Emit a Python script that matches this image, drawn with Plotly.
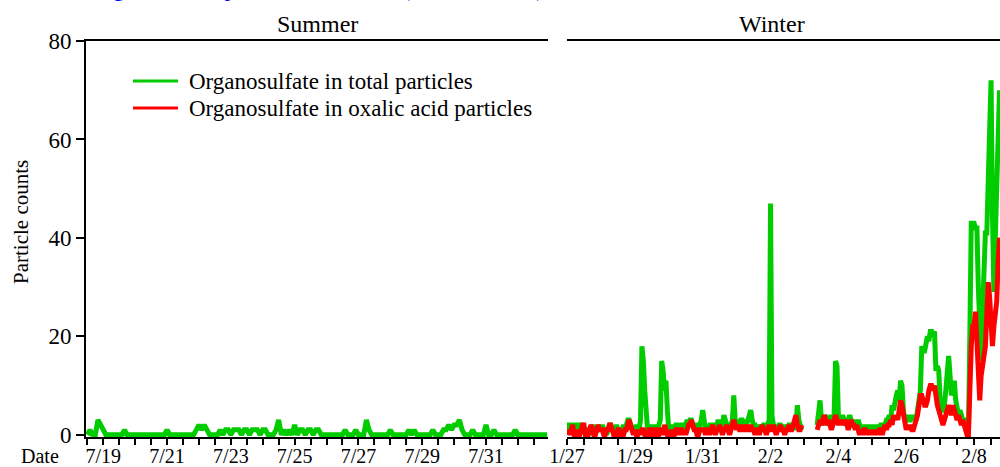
import pandas as pd
import plotly.graph_objects as go

# ---------------- data ----------------
# Summer: 2-hourly counts, starting 2013-07-18 12:00 (only total particles visible)
summer_start = "2013-07-18 12:00"
summer_total = [
    0, 1, 0, 0, 3, 2, 1, 0, 0, 0, 0, 0,
    0, 0, 1, 0, 0, 0, 0, 0, 0, 0, 0, 0,
    0, 0, 0, 0, 0, 0, 1, 0, 0, 0, 0, 0,
    0, 0, 0, 0, 0, 1, 2, 1, 2, 1, 0, 0,
    0, 0, 1, 0, 1, 1, 0, 1, 1, 1, 0, 1,
    1, 0, 1, 1, 1, 0, 1, 1, 0, 0, 0, 1,
    3, 0, 1, 0, 1, 0, 2, 0, 1, 1, 0, 1,
    1, 0, 1, 1, 0, 0, 0, 0, 0, 0, 0, 0,
    0, 1, 0, 0, 0, 1, 0, 0, 0, 3, 1, 0,
    0, 0, 0, 0, 0, 0, 1, 0, 0, 0, 0, 0,
    0, 1, 0, 1, 0, 0, 0, 0, 0, 0, 1, 0,
    0, 0, 1, 1, 2, 1, 2, 2, 3, 1, 0, 0,
    0, 1, 0, 0, 0, 0, 2, 0, 0, 1, 0, 0,
    0, 0, 0, 0, 0, 1, 0, 0, 0, 0, 0, 0,
    0, 0, 0, 0, 0, 0,
]

# Winter: hourly counts, starting 2014-01-27 00:00 (None = no data)
N = None
winter_start = "2014-01-27 00:00"
winter_total = [
    2, 2, 1, 2, 2, 1, 2, 2, 2, 1, 2, 2, 1, 0, 1, 1, 0, 1, 2, 1, 0, 1, 2, 1,
    1, 2, 1, 1, 0, 1, 2, 2, 1, 1, 1, 2, 1, 0, 1, 1, 2, 1, 2, 3, 3, 2, 1, 1,
    1, 2, 1, 1, 3, 18, 15, 9, 2, 1, 1, 2, 1, 1, 2, 1, 1, 2, 3, 15, 13, 9, 11, 5,
    1, 1, 1, 2, 1, 2, 2, 1, 1, 2, 2, 1, 2, 3, 2, 3, 3, 2, 1, 2, 2, 1, 2, 3,
    5, 2, 1, 2, 1, 2, 2, 2, 1, 2, 2, 3, 2, 1, 2, 4, 3, 2, 1, 2, 2, 3, 8, 3,
    2, 3, 2, 3, 3, 2, 3, 2, 3, 4, 5, 3, 2, 2, 1, 2, 1, 2, 1, 2, 2, 1, 2, 3,
    47, 4, 2, 1, 2, 1, 2, 2, 1, 2, 1, 2, 1, 2, 2, 1, 2, 1, 2, 6, 3, 2, 1, N,
    N, N, N, N, N, N, N, N, N, 2, 4, 7, 3, 2, 3, 4, 3, 2, 3, 4, 3, 4, 15, 14,
    4, 3, 3, 4, 3, 2, 3, 3, 4, 3, 2, 3, 2, 2, 3, 2, 1, 2, 1, 1, 2, 1, 1, 2,
    1, 2, 1, 2, 1, 1, 2, 2, 1, 2, 3, 3, 4, 3, 6, 5, 7, 8, 9, 7, 11, 10, 5, 3,
    3, 4, 3, 3, 4, 3, 4, 3, 5, 8, 9, 18, 17, 17, 19, 20, 19, 21, 21, 20, 21, 13, 14, 13,
    7, 5, 5, 6, 9, 13, 16, 12, 8, 9, 11, 7, 5, 4, 5, 4, 3, 3, 2, 1, 0, 20, 43, 43,
    43, 42, 42, 30, 18, 15, 25, 36, 41, 41, 55, 70, 72, 45, 29, 40, 50, 66, 70, 62, 55, 50, 48, 45,
]
winter_oxalic = [
    0, 1, 0, 1, 2, 0, 0, 1, 0, 0, 1, 2, 2, 0, 0, 0, 1, 2, 1, 0, 0, 1, 2, 1,
    1, 1, 0, 0, 1, 1, 2, 2, 1, 0, 0, 0, 1, 1, 0, 0, 0, 1, 1, 2, 3, 2, 1, 0,
    1, 0, 0, 1, 0, 1, 1, 0, 0, 0, 1, 1, 0, 0, 1, 1, 0, 0, 1, 1, 0, 2, 1, 0,
    0, 0, 1, 0, 0, 1, 1, 0, 1, 1, 0, 1, 0, 1, 2, 2, 3, 2, 1, 1, 0, 0, 1, 1,
    1, 1, 0, 1, 1, 0, 1, 2, 1, 0, 1, 1, 2, 1, 0, 1, 1, 2, 1, 0, 1, 2, 3, 2,
    1, 2, 1, 1, 2, 1, 1, 2, 1, 1, 2, 1, 1, 0, 1, 1, 0, 1, 2, 1, 1, 0, 1, 2,
    1, 1, 2, 1, 0, 1, 1, 2, 1, 1, 0, 1, 1, 2, 1, 1, 2, 3, 4, 2, 1, 1, 2, N,
    N, N, N, N, N, N, N, N, N, 1, 2, 3, 2, 3, 4, 3, 2, 3, 2, 1, 2, 3, 4, 3,
    2, 3, 2, 3, 2, 3, 2, 1, 2, 3, 2, 2, 1, 2, 1, 0, 1, 0, 1, 1, 0, 1, 0, 1,
    0, 1, 0, 1, 0, 1, 1, 0, 1, 2, 1, 2, 2, 3, 2, 4, 3, 4, 3, 5, 7, 6, 4, 2,
    1, 2, 1, 2, 1, 1, 2, 3, 4, 6, 8, 8, 7, 6, 6, 7, 9, 10, 10, 9, 10, 7, 6, 5,
    4, 3, 2, 3, 4, 5, 6, 5, 4, 6, 5, 4, 3, 4, 3, 2, 3, 2, 1, 0, 0, 12, 18, 22,
    22, 25, 20, 12, 7, 12, 15, 16, 18, 24, 31, 28, 22, 18, 22, 26, 27, 35, 40, 38, 35, 33, 30, 28,
]

summer_tick_labels = ["7/19", "7/21", "7/23", "7/25", "7/27", "7/29", "7/31"]
winter_tick_labels = ["1/27", "1/29", "1/31", "2/2", "2/4", "2/6", "2/8"]
y_ticks = [0, 20, 40, 60, 80]
series_names = ["Organosulfate in total particles", "Organosulfate in oxalic acid particles"]
panel_names = ["Summer", "Winter"]

GREEN = "#00CC00"
RED = "#FF0000"
FONT = "Liberation Serif"

# ---------------- build ----------------
summer_x = pd.date_range(summer_start, periods=len(summer_total), freq="2h")
winter_x = pd.date_range(winter_start, periods=len(winter_total), freq="h")


def ticks(start, end, labels):
    vals = pd.date_range(start, end, freq="12h")
    text = []
    for t in vals:
        s = f"{t.month}/{t.day}"
        text.append(s if (t.hour == 0 and s in labels) else "")
    return list(vals), text


s_vals, s_text = ticks("2013-07-18 12:00", "2013-08-01 12:00", summer_tick_labels)
w_vals, w_text = ticks("2014-01-27 00:00", "2014-02-08 12:00", winter_tick_labels)

fig = go.Figure()
fig.add_trace(go.Scatter(x=summer_x, y=summer_total, mode="lines", name=series_names[0],
                         line=dict(color=GREEN, width=5), xaxis="x", yaxis="y", showlegend=False))
fig.add_trace(go.Scatter(x=winter_x, y=winter_total, mode="lines", name=series_names[0],
                         line=dict(color=GREEN, width=5), xaxis="x2", yaxis="y",
                         connectgaps=False, showlegend=False))
fig.add_trace(go.Scatter(x=winter_x, y=winter_oxalic, mode="lines", name=series_names[1],
                         line=dict(color=RED, width=5), xaxis="x2", yaxis="y",
                         connectgaps=False, showlegend=False))

W, H = 1000, 467
ML, MR, MT, MB = 86, 0, 41, 30
PW = W - ML - MR
PH = H - MT - MB


def px(x):
    return (x - ML) / PW


def py(y):
    return (H - MB - y) / PH


xcommon = dict(type="date", showline=True, linecolor="black", linewidth=2, mirror=True,
               ticks="outside", ticklen=6, tickwidth=1.5, tickcolor="black",
               tickfont=dict(family=FONT, size=20, color="black"), showgrid=False,
               zeroline=False, tickangle=0, automargin=False, ticklabelstandoff=-6)

fig.update_layout(
    width=W, height=H,
    margin=dict(l=ML, r=MR, t=MT, b=MB, autoexpand=False),
    paper_bgcolor="white", plot_bgcolor="white",
    font=dict(family=FONT, color="black"),
    showlegend=False,
    xaxis=dict(domain=[0, px(548)], range=["2013-07-18 11:00", "2013-08-01 22:40"],
               tickvals=s_vals, ticktext=s_text, anchor="y", **xcommon),
    xaxis2=dict(domain=[px(567), 1], range=["2014-01-27 00:00", "2014-02-08 18:20"],
                tickvals=w_vals, ticktext=w_text, anchor="y", **xcommon),
    yaxis=dict(range=[-0.45, 80], tickvals=y_ticks, showline=True, linecolor="black",
               linewidth=2, ticks="outside", ticklen=8, tickwidth=1.5, tickcolor="black",
               tickfont=dict(family=FONT, size=23, color="black"), showgrid=False,
               zeroline=False, anchor="x", automargin=False),
)

ann = []
# blue title, mostly cut off at the top
ann.append(dict(text="Organosulfate particles measured (1 h resolution)", x=px(87), y=py(3),
                xref="paper", yref="paper", xanchor="left", yanchor="bottom", showarrow=False,
                font=dict(family=FONT, size=23, color="#0000FF")))
ann.append(dict(text=panel_names[0], x=px(317), y=py(39), xref="paper", yref="paper",
                xanchor="center", yanchor="bottom", showarrow=False,
                font=dict(family=FONT, size=24, color="black")))
ann.append(dict(text=panel_names[1], x=px(772), y=py(39), xref="paper", yref="paper",
                xanchor="center", yanchor="bottom", showarrow=False,
                font=dict(family=FONT, size=24, color="black")))
ann.append(dict(text="Particle counts", x=px(21), y=py(222), xref="paper", yref="paper",
                xanchor="center", yanchor="middle", textangle=-90, showarrow=False,
                font=dict(family=FONT, size=21, color="black")))
ann.append(dict(text="Date", x=px(40), y=py(456), xref="paper", yref="paper",
                xanchor="center", yanchor="middle", showarrow=False,
                font=dict(family=FONT, size=20, color="black")))
# legend
ann.append(dict(text=series_names[0], x=px(187), y=py(81), xref="paper", yref="paper",
                xanchor="left", yanchor="middle", showarrow=False,
                font=dict(family=FONT, size=23, color="black")))
ann.append(dict(text=series_names[1], x=px(187), y=py(108), xref="paper", yref="paper",
                xanchor="left", yanchor="middle", showarrow=False,
                font=dict(family=FONT, size=23, color="black")))
fig.update_layout(annotations=ann)

fig.update_layout(shapes=[
    dict(type="line", xref="paper", yref="paper", x0=px(133), x1=px(178), y0=py(81), y1=py(81),
         line=dict(color=GREEN, width=3)),
    dict(type="line", xref="paper", yref="paper", x0=px(133), x1=px(178), y0=py(108), y1=py(108),
         line=dict(color=RED, width=3)),
])

# remove the browser's default page margin so the figure starts at the window corner
fig.write_html("out.html", config={"displayModeBar": False},
               post_script="document.body.style.margin='0';")
